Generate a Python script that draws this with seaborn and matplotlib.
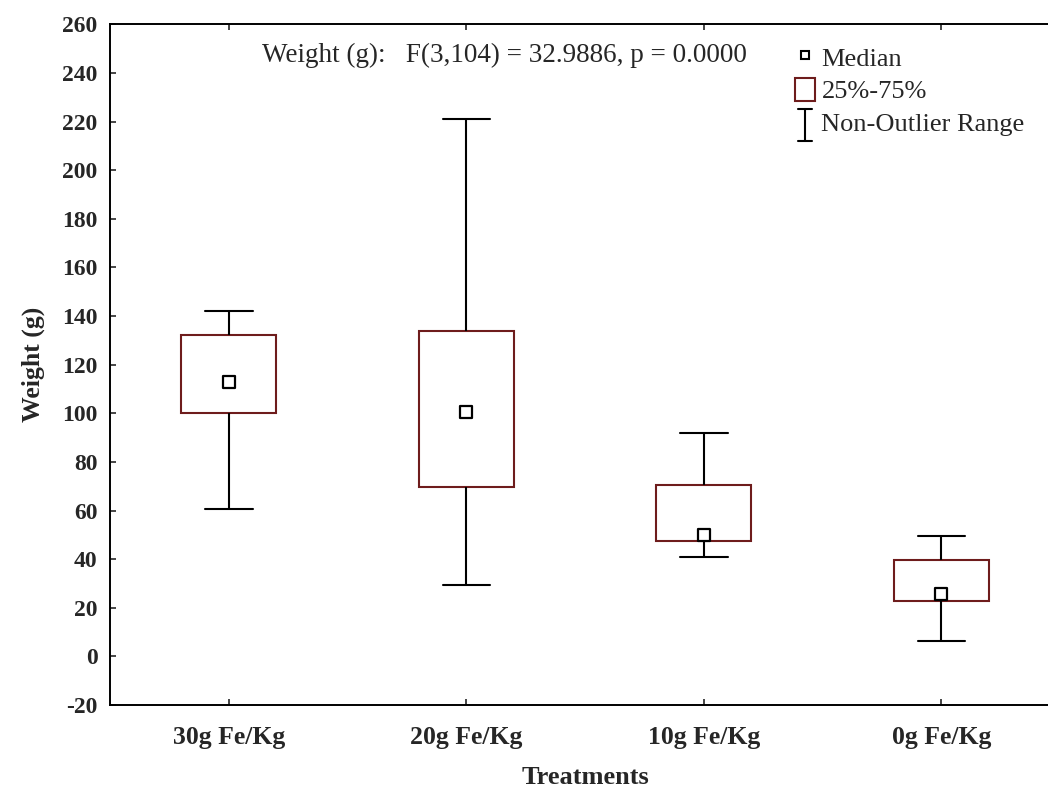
import numpy as np
import pandas as pd
import matplotlib
matplotlib.use("Agg")
import matplotlib.pyplot as plt
import seaborn as sns
from matplotlib.lines import Line2D
from matplotlib.patches import Patch
from matplotlib.legend_handler import HandlerBase

# ---- data (five-number summaries) ----
treatments = ["30g Fe/Kg", "20g Fe/Kg", "10g Fe/Kg", "0g Fe/Kg"]
whisker_low = [60.5, 29.2, 40.8, 6.3]
q1 = [100.0, 69.7, 47.5, 22.8]
median = [112.7, 100.4, 49.9, 25.5]
q3 = [132.1, 134.0, 70.4, 39.8]
whisker_high = [142.0, 221.0, 91.8, 49.6]
yticks = list(range(-20, 261, 20))
stat_text = "Weight (g):   F(3,104) = 32.9886, p = 0.0000"

rows = []
for t, a, b, c, d, e in zip(treatments, whisker_low, q1, median, q3, whisker_high):
    for v in (a, b, c, d, e):
        rows.append({"Treatments": t, "Weight (g)": v})
df = pd.DataFrame(rows)
med_df = pd.DataFrame({"Treatments": treatments, "Median": median})

sns.set_style("white")
plt.rcParams["font.family"] = ["Liberation Serif", "DejaVu Serif"]
plt.rcParams["axes.linewidth"] = 1.4

MAROON = "#6e1c1c"

fig = plt.figure(figsize=(10.48, 7.92), dpi=100)
W, H = 1048, 792
ax = fig.add_axes([110 / W, 1 - 705 / H, 950 / W, (705 - 24.3) / H])

sns.boxplot(
    data=df, x="Treatments", y="Weight (g)", order=treatments, ax=ax,
    whis=(0, 100), width=0.4, fill=True, color="white",
    linewidth=1.5, linecolor="black",
    boxprops=dict(edgecolor=MAROON, facecolor="white", linewidth=1.5),
    whiskerprops=dict(color="black", linewidth=1.5),
    capprops=dict(color="black", linewidth=1.5),
    medianprops=dict(visible=False),
    showfliers=False,
)
sns.scatterplot(
    data=med_df, x="Treatments", y="Median", ax=ax, marker="s", s=80,
    facecolor="white", edgecolor="black", linewidth=1.6, zorder=5, legend=False,
)

ax.set_xlim(-0.5, 3.5)
ax.set_ylim(-20, 260)
ax.set_yticks(yticks)
ax.set_yticklabels([str(v) for v in yticks])
for s in ax.spines.values():
    s.set_visible(True)
    s.set_color("black")
    s.set_linewidth(1.4)
ax.tick_params(axis="both", direction="in", length=4, width=1.2,
               top=True, right=True, bottom=True, left=True)
ax.tick_params(axis="y", labelsize=17, pad=9)
ax.tick_params(axis="x", labelsize=18.5, pad=15)
for lab in ax.get_xticklabels() + ax.get_yticklabels():
    lab.set_fontweight("bold")
ax.set_xlabel("Treatments", fontsize=19, fontweight="bold", labelpad=12)
ax.set_ylabel("Weight (g)", fontsize=18.5, fontweight="bold", labelpad=12)

ax.text(0.16, 0.955, stat_text, transform=ax.transAxes, fontsize=19.5,
        ha="left", va="center")


class HandlerRange(HandlerBase):
    def create_artists(self, legend, orig_handle, xdescent, ydescent,
                       width, height, fontsize, trans):
        cx = width / 2 - xdescent
        y0 = -ydescent - height * 0.3
        y1 = height * 1.05 - ydescent
        cw = width * 0.35
        l1 = Line2D([cx, cx], [y0, y1], color="black", lw=1.5, transform=trans)
        l2 = Line2D([cx - cw, cx + cw], [y0, y0], color="black", lw=1.5, transform=trans)
        l3 = Line2D([cx - cw, cx + cw], [y1, y1], color="black", lw=1.5, transform=trans)
        return [l1, l2, l3]


h_med = Line2D([], [], marker="s", ls="none", mfc="white", mec="black", ms=6, mew=1.5)
h_box = Patch(facecolor="white", edgecolor=MAROON, linewidth=1.5)
h_rng = Line2D([], [], color="black")
leg = ax.legend([h_med, h_box, h_rng], ["Median", "25%-75%", "Non-Outlier Range"],
                handler_map={h_rng: HandlerRange()},
                loc="upper left", bbox_to_anchor=(0.71, 0.985), frameon=False,
                fontsize=19, handlelength=0.75, handleheight=1.0, handletextpad=0.25,
                labelspacing=0.25, borderaxespad=0)

fig.savefig("out.png", dpi=100)
